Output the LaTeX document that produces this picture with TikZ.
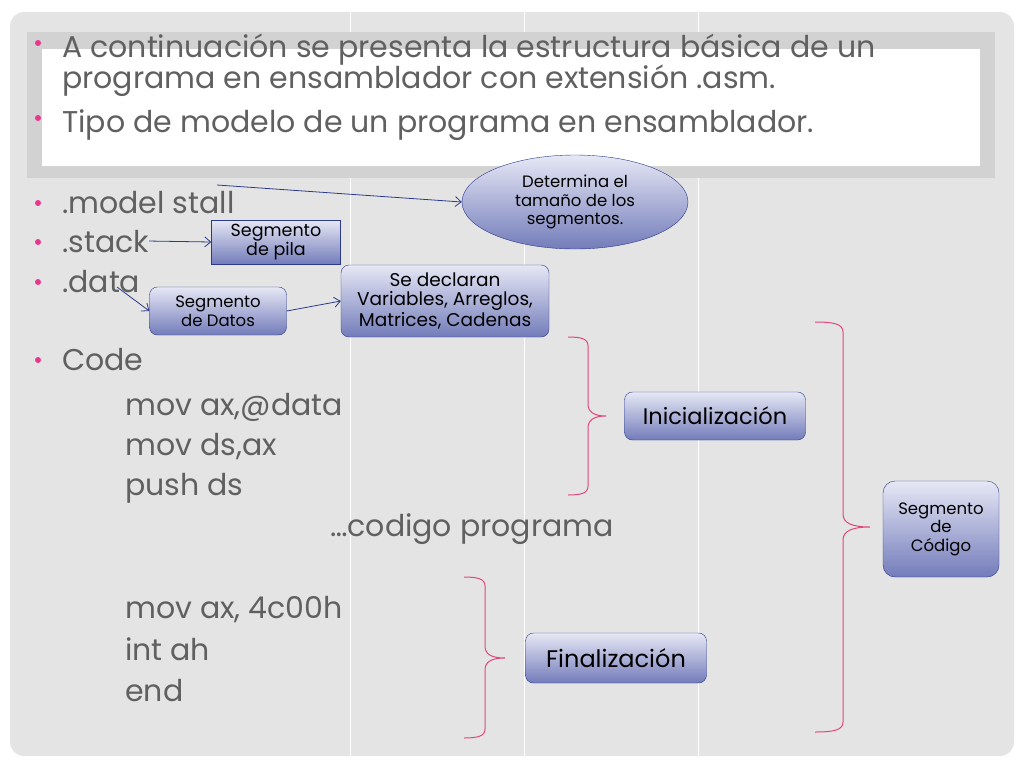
\documentclass[tikz,border=0pt]{standalone}
\usepackage{fontspec}
\setmainfont{Poppins}
\usetikzlibrary{arrows.meta, positioning, shapes.geometric}
\definecolor{panel}{HTML}{E4E4E4}
\definecolor{frame}{HTML}{D2D2D2}
\definecolor{ink}{HTML}{606060}
\definecolor{pinkdot}{HTML}{E6388C}
\definecolor{navy}{HTML}{2B3A8C}
\definecolor{lav}{HTML}{E6E8F5}
\definecolor{peri}{HTML}{737CBA}
\definecolor{brc}{HTML}{E2467E}
\tikzset{
    semithick,
    box/.style ={rectangle, draw=navy, top color=lav, bottom color=peri, align=center,
                 inner sep=2pt, text=black, font=\fontsize{16.5}{18.5}\selectfont},
    rbox/.style ={box, rounded corners=8pt},
    bubble/.style ={box, ellipse},
    link/.style ={navy, line width=0.8pt, -{Straight Barb[length=6pt,width=10pt]}},
    brace/.style ={brc, line width=1pt},
    txt/.style ={anchor=base west, text=ink, inner sep=0pt, font=\fontsize{30}{33}\selectfont},
    dot/.style ={circle, fill=pinkdot, inner sep=0pt, minimum size=6pt, node contents={}}
    }

\begin{document}
\begin{tikzpicture}[x=1pt, y=-1pt]
    \useasboundingbox (0,0) rectangle (1024,768);

    % slide background
    \fill[panel, rounded corners=14pt] (10,12) rectangle (1014,756);
    \foreach \x in {350,524,698}
        \draw[white, line width=1pt] (\x,12) -- (\x,756);
    \fill[frame] (27,32) rectangle (995,178);
    \fill[white] (42,49) rectangle (980,166);

    % title bullets
    \node (d1) at (38,43) [dot];
    \node (d2) at (38,118) [dot];
    \node[txt] (t1) at (62,58) {A continuación se presenta la estructura básica de un};
    \node[txt] (t2) at (62,88) {programa en ensamblador con extensión .asm.};
    \node[txt] (t3) at (62,132) {Tipo de modelo de un programa en ensamblador.};

    % program lines
    \node (d3) at (38,203) [dot];
    \node (d4) at (38,242) [dot];
    \node (d5) at (38,282) [dot];
    \node (d6) at (38,360) [dot];
    \node[txt] (model) at (62,213) {.model stall};
    \node[txt] (stack) at (62,252) {.stack};
    \node[txt] (data) at (62,292) {.data};
    \node[txt] (code) at (62,370) {Code};
    \node[txt] (c1) at (125,415) {mov ax,@data};
    \node[txt] (c2) at (125,455) {mov ds,ax};
    \node[txt] (c3) at (125,495) {push ds};
    \node[txt] (c4) at (330,536) {…codigo programa};
    \node[txt] (c5) at (125,618) {mov ax, 4c00h};
    \node[txt] (c6) at (125,660) {int ah};
    \node[txt] (c7) at (125,701) {end};

    % boxes
    \node[bubble, minimum width=226pt, minimum height=94pt] (tamano) at (575,202)
        {Determina el\\tamaño de los\\segmentos.};
    \node[box, minimum width=129pt, minimum height=44pt, inner sep=1pt,
          font=\fontsize{17.5}{18}\selectfont] (pila) at (276,242) {Segmento\\de pila};
    \node[rbox, minimum width=137pt, minimum height=48pt] (datos) at (218,311)
        {Segmento\\de Datos};
    \node[rbox, minimum width=208pt, minimum height=72pt, font=\fontsize{18.5}{19}\selectfont]
        (declara) at (445,301) {Se declaran\\Variables, Arreglos,\\Matrices, Cadenas};
    \node[rbox, minimum width=181pt, minimum height=48pt, font=\fontsize{22.5}{24}\selectfont]
        (inicio) at (715,416) {Inicialización};
    \node[rbox, minimum width=116pt, minimum height=96pt, rounded corners=12pt]
        (codigo) at (941,529) {Segmento\\de\\Código};
    \node[rbox, minimum width=181pt, minimum height=50pt, font=\fontsize{24}{26}\selectfont]
        (fin) at (616,658) {Finalización};

    % arrows
    \coordinate (mstart) at (217,185);
    \coordinate (dstart) at (117,287);
    \draw[link] (mstart) -- (tamano.west);
    \draw[link] (stack.east) -- (pila.west);
    \draw[link] (dstart) -- (datos.west);
    \draw[link] (datos.east) -- (declara.west);

    % braces
    \draw[brace] (568,337) .. controls (582,337) and (588,339) .. (588,346) -- (588,404)
        .. controls (588,412) and (594,416) .. (606,416)
        .. controls (594,416) and (588,420) .. (588,428) -- (588,486)
        .. controls (588,493) and (582,495) .. (568,495);
    \draw[brace] (815,322) .. controls (834,322) and (843,324) .. (843,332) -- (843,514)
        .. controls (843,523) and (852,527) .. (870,527)
        .. controls (852,527) and (843,531) .. (843,540) -- (843,722)
        .. controls (843,730) and (834,732) .. (815,732);
    \draw[brace] (464,577) .. controls (478,577) and (485,579) .. (485,586) -- (485,646)
        .. controls (485,654) and (491,658) .. (505,658)
        .. controls (491,658) and (485,662) .. (485,670) -- (485,729)
        .. controls (485,736) and (478,738) .. (464,738);
\end{tikzpicture}
\end{document}
